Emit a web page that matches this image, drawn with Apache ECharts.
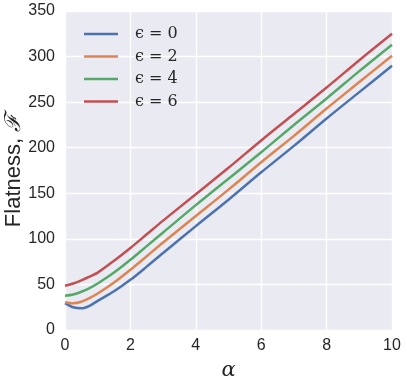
<!DOCTYPE html>
<html>
<head>
<meta charset="utf-8">
<script src="https://cdn.jsdelivr.net/npm/echarts@6/dist/echarts.min.js"></script>
<style>
  html, body { margin: 0; padding: 0; background: #fff; }
  #chart { width: 407px; height: 383px; }
</style>
</head>
<body>
<div id="chart"></div>
<script>
const alpha = [0, 0.25, 0.5, 0.75, 1, 1.5, 2, 2.5, 3, 4, 5, 6, 7, 8, 9, 10];
const eps0 = [29.5, 25, 23.8, 26.5, 32, 42.5, 55, 69.5, 84.5, 114, 143, 173, 202, 232, 261, 290];
const eps2 = [30.5, 29.3, 31, 35, 40, 52, 66, 81, 96, 125, 154, 184, 213, 243, 272, 301];
const eps4 = [37.6, 39, 42, 46, 51, 63, 77, 92, 107, 137, 166, 195, 225, 254, 284, 313];
const eps6 = [48.5, 51, 54.5, 58.5, 63, 76, 90, 105, 120, 149, 178, 208, 237, 266, 296, 325];
const seriesNames = ["ϵ = 0", "ϵ = 2", "ϵ = 4", "ϵ = 6"];
const colors = ["#4C72B0", "#DD8452", "#55A868", "#C44E52"];

const chart = echarts.init(document.getElementById("chart"));

function makeSeries(name, ys, color) {
    return {
        name: name,
        type: "line",
        showSymbol: false,
        smooth: 0.3,
        lineStyle: { color: color, width: 2.5 },
        itemStyle: { color: color },
        data: ys.map((y, i) => [alpha[i], y])
    };
}

chart.setOption({
    animation: false,
    grid: {
        left: 65, right: 15, top: 11, bottom: 53,
        outerBoundsMode: "none",
        containLabel: false,
        show: true,
        backgroundColor: "#EAEAF2",
        borderWidth: 0
    },
    legend: {
        orient: "vertical",
        left: 79,
        top: 21,
        icon: "rect",
        itemWidth: 34,
        itemHeight: 2.5,
        itemGap: 6.5,
        textStyle: { fontFamily: "DejaVu Serif", fontSize: 16, color: "#262626", lineHeight: 16, padding: [0, 0, 0, 12] },
        data: seriesNames
    },
    xAxis: {
        type: "value",
        min: 0, max: 10, interval: 2,
        name: "α",
        nameLocation: "middle",
        nameGap: 30,
        nameMoveOverlap: false,
        nameTextStyle: { fontFamily: "DejaVu Serif", fontStyle: "italic", fontSize: 21, color: "#262626" },
        axisLine: { show: false },
        axisTick: { show: false },
        axisLabel: { fontFamily: "Liberation Sans", fontSize: 16, color: "#262626", margin: 8 },
        splitLine: { lineStyle: { color: "#fff", width: 1.3 } }
    },
    yAxis: {
        type: "value",
        min: 0, max: 350, interval: 50,
        name: "{a|Flatness, }{b|ℱ}",
        nameLocation: "middle",
        nameGap: 40,
        nameMoveOverlap: false,
        nameTextStyle: {
            rich: {
                a: { fontFamily: "Liberation Sans", fontSize: 22, color: "#262626" },
                b: { fontFamily: "DejaVu Serif", fontStyle: "italic", fontSize: 22, color: "#262626" }
            }
        },
        axisLine: { show: false },
        axisTick: { show: false },
        axisLabel: { fontFamily: "Liberation Sans", fontSize: 16, color: "#262626", margin: 10 },
        splitLine: { lineStyle: { color: "#fff", width: 1.3 } }
    },
    series: [
        makeSeries(seriesNames[0], eps0, colors[0]),
        makeSeries(seriesNames[1], eps2, colors[1]),
        makeSeries(seriesNames[2], eps4, colors[2]),
        makeSeries(seriesNames[3], eps6, colors[3])
    ]
});
</script>
</body>
</html>
